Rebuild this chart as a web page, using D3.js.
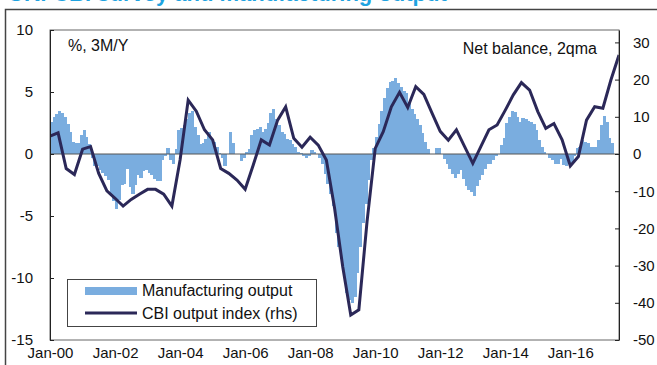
<!DOCTYPE html>
<html>
<head>
<meta charset="utf-8">
<script src="https://cdn.jsdelivr.net/npm/d3@7"></script>
<style>
  body { margin: 0; background: #fff; }
  svg { display: block; font-family: "Liberation Sans", Arial, sans-serif; }
</style>
</head>
<body>
<div id="chart"></div>
<script>
// manufacturing output, % 3M/Y, monthly from Jan-00
const mfgStart = "2000-01-01";
const mfgOutput = [
  2.6, 3.0, 3.2, 3.5, 3.3, 3.0, 2.4, 1.8, 1.0, 0.9, 0.9, 1.5,
  1.9, 1.4, 0.8, -0.3, -1.0, -1.0, -1.3, -1.5, -1.8, -2.1, -3.2, -3.8,
  -4.4, -3.7, -2.5, -2.4, -1.2, -2.7, -3.2, -2.5, -1.7, -1.9, -1.4, -1.3,
  -1.5, -1.7, -2.0, -2.2, -2.2, -0.5, -0.2, 0.5, -0.5, -0.8, 0.4, 1.9,
  2.1, 2.3, 2.8, 3.3, 3.5, 2.2, 1.5, 0.8, 0.9, 1.2, 1.8, 1.3,
  1.0, 0.6, 0.1, -0.3, -1.0, 0.0, 1.8, 0.9, 0.0, 0.0, -0.6, -0.3,
  0.2, 0.4, 1.5, 1.9, 2.0, 2.2, 1.8, 2.0, 2.5, 3.3, 3.6, 2.8,
  2.3, 1.8, 1.6, 1.2, 1.1, 0.8, 0.6, 0.2, 0.1, -0.2, -0.3, -0.2,
  0.3, 0.2, 0.0, -0.3, -0.8, -1.6, -2.4, -3.2, -4.2, -6.4, -7.5, -8.5,
  -9.5, -11.2, -11.8, -12.0, -11.5, -9.6, -7.5, -5.6, -4.0, -2.1, -0.5, 0.5,
  1.4, 2.4, 3.5, 4.5, 5.3, 5.8, 5.9, 6.1, 5.7, 5.4, 5.1, 4.9,
  4.2, 3.6, 3.2, 2.8, 2.3, 1.7, 1.0, 0.4, 0.0, 0.0, 0.5, 0.5,
  0.0, -0.4, -0.8, -1.2, -1.6, -1.9, -1.6, -1.3, -2.0, -2.6, -2.9, -3.1,
  -3.4, -2.6, -2.1, -1.7, -1.2, -0.8, -0.8, -0.5, -0.2, 0.0, 0.7, 1.3,
  2.5, 3.0, 3.5, 3.4, 3.0, 2.6, 2.9, 2.8, 2.7, 2.6, 2.4, 1.9,
  1.1, 0.6, 0.2, 0.0, -0.3, -0.5, -0.8, -0.8, -0.4, -0.9, -1.0, -0.8,
  -0.8, -0.2, 0.5, 0.6, 1.1, 1.0, 0.9, 0.6, 0.6, 0.6, 1.1, 2.3,
  3.1, 2.6, 1.3, 0.9
];

// CBI output index, net balance 2qma, quarterly from Jan-00 (rhs)
const cbiStart = "2000-01-01";
const cbiIndex = [
  4.8, 5.7, -3.9, -5.5,  1.3, 2.0, -5.2, -9.9,  -11.9, -14.0, -12.2, -10.8,
  -9.5, -9.5, -10.8, -14.0,  -1.6, 14.5, 11.5, 6.5,  3.8, -3.9, -5.2, -7.0,
  -9.5, -3.0, 3.8, 2.4,  9.1, 12.7, 4.2, 1.8,  4.5, 2.4, -1.6, -14.5,
  -30.3, -43.3, -41.9, -18.2,  1.5, 6.0, 12.7, 16.6,  12.5, 18.1, 16.0, 11.0,
  6.1, 3.7, 6.5, 2.0,  -2.5, 2.0, 6.5, 7.8,  11.8, 15.9, 19.2, 17.2,
  11.4, 6.9, 8.2, 3.8,  -3.2, -0.7, 9.1, 12.7,  12.3, 19.9, 26.6
];

const xTicks = ["2000-01-01", "2002-01-01", "2004-01-01", "2006-01-01", "2008-01-01",
                "2010-01-01", "2012-01-01", "2014-01-01", "2016-01-01"];
const leftTicks = [10, 5, 0, -5, -10, -15];
const rightTicks = [30, 20, 10, 0, -10, -20, -30, -40, -50];
const seriesNames = ["Manufacturing output", "CBI output index (rhs)"];

let w = 657, h = 365;
let m = {left: 50, right: 619, top: 30, bottom: 340};
let barColor = "#7aaddf", lineColor = "#2b2858";

let parse = d3.timeParse("%Y-%m-%d");
let mfg = mfgOutput.map((v, i) => ({date: d3.timeMonth.offset(parse(mfgStart), i), v: v}));
let cbi = cbiIndex.map((v, i) => ({date: d3.timeMonth.offset(parse(cbiStart), 3 * i), v: v}));

let svg = d3.select("#chart").append("svg")
  .attr("width", w).attr("height", h);

// title, mostly cropped off the top (as in the source image)
svg.append("text")
  .attr("x", 8).attr("y", 1)
  .attr("font-size", "22px").attr("font-weight", "bold")
  .attr("fill", "#1fa3e0")
  .text("UK: CBI survey and manufacturing output");

// outer frame
svg.append("path")
  .attr("d", "M5.5," + h + "V9.5H" + w)
  .attr("fill", "none").attr("stroke", "#444").attr("stroke-width", 1.5);

// scales
let xScale = d3.scaleTime()
  .domain([parse("2000-01-01"), parse("2017-07-01")])
  .range([m.left, m.right]);
let yLeft = d3.scaleLinear().domain([-15, 10]).range([m.bottom, m.top]);
let yRight = d3.scaleLinear().domain([-50, 100 / 3]).range([m.bottom, m.top]);

svg.append("clipPath").attr("id", "plot-clip")
  .append("rect")
  .attr("x", m.left).attr("y", m.top)
  .attr("width", m.right - m.left).attr("height", m.bottom - m.top);

// bars
svg.append("g")
  .attr("clip-path", "url(#plot-clip)")
  .attr("shape-rendering", "crispEdges")
  .selectAll("rect")
  .data(mfg)
  .join("rect")
    .attr("x", d => xScale(d.date))
    .attr("width", d => xScale(d3.timeMonth.offset(d.date, 1)) - xScale(d.date) + 0.6)
    .attr("y", d => yLeft(Math.max(0, d.v)))
    .attr("height", d => Math.abs(yLeft(d.v) - yLeft(0)))
    .attr("fill", barColor);

// zero line
svg.append("line")
  .attr("x1", m.left).attr("x2", m.right)
  .attr("y1", yLeft(0)).attr("y2", yLeft(0))
  .attr("stroke", "#555").attr("stroke-width", 1);

// CBI line
let line = d3.line()
  .x(d => xScale(d.date))
  .y(d => yRight(d.v));
svg.append("path")
  .datum(cbi)
  .attr("clip-path", "url(#plot-clip)")
  .attr("d", line)
  .attr("fill", "none")
  .attr("stroke", lineColor)
  .attr("stroke-width", 3)
  .attr("stroke-linejoin", "miter");

// plot frame
svg.append("rect")
  .attr("x", m.left).attr("y", m.top)
  .attr("width", m.right - m.left).attr("height", m.bottom - m.top)
  .attr("fill", "none").attr("stroke", "#666").attr("stroke-width", 1);

// axes
let plain = d => String(d);
let leftAxis = d3.axisLeft(yLeft)
  .tickValues(leftTicks)
  .tickFormat(plain)
  .tickSizeInner(-4).tickSizeOuter(0)
  .tickPadding(17);
let gl = svg.append("g")
  .attr("transform", "translate(" + m.left + ",0)")
  .call(leftAxis);

let rightAxis = d3.axisRight(yRight)
  .tickValues(rightTicks)
  .tickFormat(plain)
  .tickSizeInner(-4).tickSizeOuter(0)
  .tickPadding(14);
let gr = svg.append("g")
  .attr("transform", "translate(" + m.right + ",0)")
  .call(rightAxis);

let bottomAxis = d3.axisBottom(xScale)
  .tickValues(xTicks.map(parse))
  .tickFormat(d3.timeFormat("%b-%y"))
  .tickSize(0)
  .tickPadding(7);
let gb = svg.append("g")
  .attr("transform", "translate(0," + m.bottom + ")")
  .call(bottomAxis);
gb.select(".domain").remove();

[gl, gr, gb].forEach(g => {
  g.selectAll("text").attr("font-size", "15px").attr("fill", "#111")
    .attr("font-family", "Liberation Sans, Arial, sans-serif");
  g.select(".domain").attr("stroke", "#222");
  g.selectAll(".tick line").attr("stroke", "#222");
});

// unit notes
svg.append("text")
  .attr("x", 68).attr("y", 51)
  .attr("font-size", "16px").attr("fill", "#111")
  .text("%, 3M/Y");
svg.append("text")
  .attr("x", 597).attr("y", 54)
  .attr("text-anchor", "end")
  .attr("font-size", "16px").attr("fill", "#111")
  .text("Net balance, 2qma");

// legend
let lg = svg.append("g");
lg.append("rect")
  .attr("x", 67.5).attr("y", 279.5)
  .attr("width", 249).attr("height", 47)
  .attr("fill", "#fff").attr("stroke", "#444").attr("stroke-width", 1);
lg.append("rect")
  .attr("x", 85).attr("y", 287)
  .attr("width", 52).attr("height", 8)
  .attr("fill", barColor);
lg.append("line")
  .attr("x1", 85).attr("x2", 137)
  .attr("y1", 313).attr("y2", 313)
  .attr("stroke", lineColor).attr("stroke-width", 3);
lg.selectAll("text.leg")
  .data(seriesNames)
  .join("text")
    .attr("class", "leg")
    .attr("x", 142)
    .attr("y", (d, i) => 296 + i * 23)
    .attr("font-size", "16px").attr("fill", "#111")
    .text(d => d);
</script>
</body>
</html>
